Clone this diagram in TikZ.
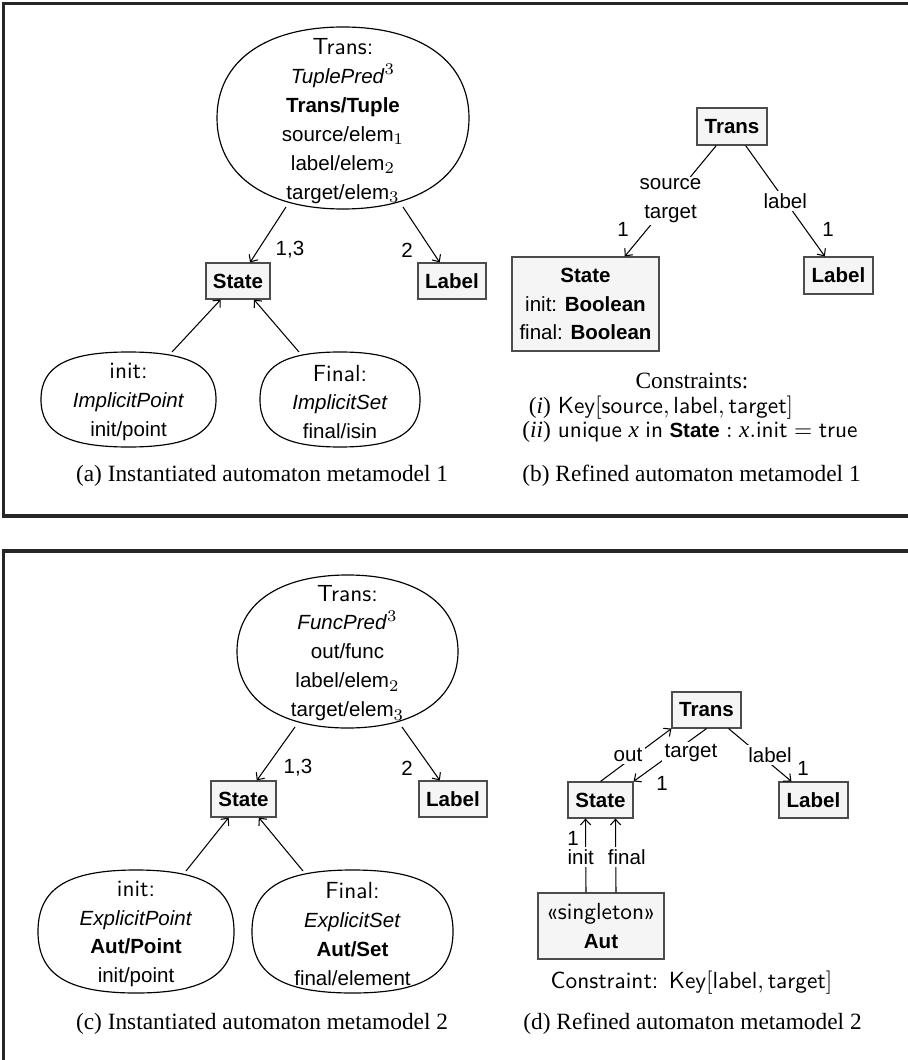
\documentclass[tikz,border=0pt]{standalone}
\usepackage{fontspec}
\setmainfont{Liberation Serif}
\newfontfamily\hv{Liberation Sans}
\usetikzlibrary{arrows.meta}
\DeclareMathSizes{8.8}{8.8}{7.2}{5.5}
\def\pxu{0.4286pt}
\newcommand\lms{\sffamily\fontsize{10}{12.4}\selectfont}
% rounded oval (squarish ellipse): cx, cy, rx, ry, control factor
\newcommand\softoval[5]{%
  \draw[ovalline] ({#1+#3},{#2}) .. controls ({#1+#3},{#2+#5*#4}) and ({#1+#5*#3},{#2+#4}) .. ({#1},{#2+#4})
    .. controls ({#1-#5*#3},{#2+#4}) and ({#1-#3},{#2+#5*#4}) .. ({#1-#3},{#2})
    .. controls ({#1-#3},{#2-#5*#4}) and ({#1-#5*#3},{#2-#4}) .. ({#1},{#2-#4})
    .. controls ({#1+#5*#3},{#2-#4}) and ({#1+#3},{#2-#5*#4}) .. cycle;}
\tikzset{
  frame/.style={draw=black!85, line width=1.3pt},
  ovalline/.style={draw=black, line width=0.5pt},
  cls/.style={draw=black!70, fill=black!4, line width=0.5pt, inner sep=0pt, align=center,
    font=\hv\bfseries\fontsize{8.8}{12.4}\selectfont},
  otext/.style={align=center, inner sep=0pt, font=\hv\fontsize{8.8}{12.4}\selectfont},
  conn/.style={line width=0.45pt, -{Straight Barb[length=2.4pt,width=4.4pt]}},
  elab/.style={fill=white, inner sep=1pt, align=center, font=\hv\fontsize{8.8}{12.4}\selectfont},
  mult/.style={inner sep=0pt, font=\hv\fontsize{8.8}{10}\selectfont},
  captext/.style={inner sep=0pt, font=\fontsize{10}{12}\selectfont},
}
\begin{document}
\begin{tikzpicture}[x=0.4286pt, y=-0.4286pt]
\useasboundingbox (0,0) rectangle (907,1060);

% frames
\draw[frame] (915,3.5) -- (3.5,3.5) -- (3.5,516) -- (915,516);
\draw[frame] (915,551) -- (3.5,551) -- (3.5,1070);

% ---------------- (a) ----------------
\softoval{343}{118}{126}{91}{0.62}
\node[otext] (transA) at (343,121) {{\lms Trans:}\\ \textit{TuplePred}$^3$\\ \textbf{Trans/Tuple}\\ source/elem$_1$\\ label/elem$_2$\\ target/elem$_3$};
\node[cls, minimum width=64*\pxu, minimum height=36*\pxu] (stateA) at (238,281) {State};
\node[cls, minimum width=68*\pxu, minimum height=36*\pxu] (labelA) at (452,281) {Label};
\coordinate (ta1) at (286,207);
\coordinate (ta2) at (403,207);
\draw[conn] (ta1) -- (stateA);
\draw[conn] (ta2) -- (labelA);
\node[mult] (mA13) at (290,250) {1,3};
\node[mult] (mA2) at (407,250) {2};

\softoval{128.5}{399.5}{87.5}{47.5}{0.7}
\node[otext] (initA) at (128.5,402) {{\lms init:}\\ \textit{ImplicitPoint}\\ init/point};
\softoval{340}{399.5}{80}{47.5}{0.7}
\node[otext] (finalA) at (340,402) {{\lms Final:}\\ \textit{ImplicitSet}\\ final/isin};
\coordinate (ia) at (172,352);
\coordinate (fa) at (299,352);
\draw[conn] (ia) -- (stateA);
\draw[conn] (fa) -- (stateA);
\node[captext] (capA) at (262,476) {(a) Instantiated automaton metamodel 1};

% ---------------- (b) ----------------
\node[cls, minimum width=70*\pxu, minimum height=37*\pxu] (transB) at (732,126.5) {Trans};
\node[cls, minimum width=147*\pxu, minimum height=94*\pxu] (stateB) at (585.5,304) {State\\ {\mdseries init:} Boolean\\ {\mdseries final:} Boolean};
\node[cls, minimum width=69*\pxu, minimum height=37*\pxu] (labelB) at (838.5,275.5) {Label};
\draw[conn] (transB) -- node[elab, midway] (lsB) {source\\target} (stateB);
\draw[conn] (transB) -- node[elab, midway] (llB) {label} (labelB);
\node[mult] (mB1) at (623,229) {1};
\node[mult] (mB2) at (828,229) {1};
\node[captext] (consB) at (692,381) {Constraints:};
\node[inner sep=0pt, font=\fontsize{10}{10.6}\selectfont] (listB) at (690,420.5) {%
  \begin{tabular}{@{}r@{\hspace{3pt}}l@{}}
  (\textit{i}) & $\mathsf{Key}[\mathsf{source},\mathsf{label},\mathsf{target}]$\\
  (\textit{ii}) & $\mathsf{unique}\;\mathit{x}\;\mathsf{in}\;\mbox{\hv\bfseries\fontsize{8.8}{10}\selectfont State} : \mathit{x}.\mathsf{init} = \mathsf{true}$
  \end{tabular}};
\node[captext] (capB) at (691.5,476) {(b) Refined automaton metamodel 1};

% ---------------- (c) ----------------
\softoval{347.5}{651.5}{110.5}{76.5}{0.62}
\node[otext] (transC) at (347.5,653) {{\lms Trans:}\\ \textit{FuncPred}$^3$\\ out/func\\ label/elem$_2$\\ target/elem$_3$};
\node[cls, minimum width=65*\pxu, minimum height=36*\pxu] (stateC) at (243.5,799) {State};
\node[cls, minimum width=68*\pxu, minimum height=36*\pxu] (labelC) at (453,799) {Label};
\coordinate (tc1) at (295,727);
\coordinate (tc2) at (402,727);
\draw[conn] (tc1) -- (stateC);
\draw[conn] (tc2) -- (labelC);
\node[mult] (mC13) at (298,768) {1,3};
\node[mult] (mC2) at (407,768) {2};

\softoval{136}{931.5}{98}{61.5}{0.7}
\node[otext] (initC) at (136,934) {{\lms init:}\\ \textit{ExplicitPoint}\\ \textbf{Aut/Point}\\ init/point};
\softoval{352.5}{931.5}{100.5}{61.5}{0.7}
\node[otext] (finalC) at (352.5,934) {{\lms Final:}\\ \textit{ExplicitSet}\\ \textbf{Aut/Set}\\ final/element};
\coordinate (ic) at (186,871);
\coordinate (fc) at (303,871);
\draw[conn] (ic) -- (stateC);
\draw[conn] (fc) -- (stateC);
\node[captext] (capC) at (262,1024) {(c) Instantiated automaton metamodel 2};

% ---------------- (d) ----------------
\node[cls, minimum width=69*\pxu, minimum height=36*\pxu] (transD) at (706.5,710) {Trans};
\node[cls, minimum width=65*\pxu, minimum height=36*\pxu] (stateD) at (600.5,800) {State};
\node[cls, minimum width=69*\pxu, minimum height=36*\pxu] (labelD) at (813.5,800) {Label};
\node[cls, minimum width=126*\pxu, minimum height=66*\pxu] (autD) at (601,926) {{\lms\mdseries «singleton»}\\ Aut};
\draw[conn] (stateD.north) -- node[elab, pos=0.5, xshift=-8*\pxu] (loD) {out} (transD.south west);
\draw[conn] (transD.south) -- node[elab, pos=0.46, xshift=18*\pxu] (ltD) {target} (stateD.north east);
\draw[conn] (transD) -- node[elab, pos=0.5, xshift=10*\pxu] (llD) {label} (labelD);
\node[mult] (mD1) at (662,783) {1};
\node[mult] (mD2) at (803,768) {1};
\draw[conn] ([xshift=-15*\pxu]autD.north) -- node[elab, pos=0.48, xshift=-5*\pxu] (liD) {init} ([xshift=-15*\pxu]stateD.south);
\draw[conn] ([xshift=15*\pxu]autD.north) -- node[elab, pos=0.48, xshift=11*\pxu] (lfD) {final} ([xshift=15*\pxu]stateD.south);
\node[mult] (mD3) at (573,838) {1};
\node[inner sep=0pt] (consD) at (691.5,983) {\lms Constraint: $\mathsf{Key}[\mathsf{label},\mathsf{target}]$};
\node[captext] (capD) at (692.5,1024) {(d) Refined automaton metamodel 2};
\end{tikzpicture}
\end{document}
